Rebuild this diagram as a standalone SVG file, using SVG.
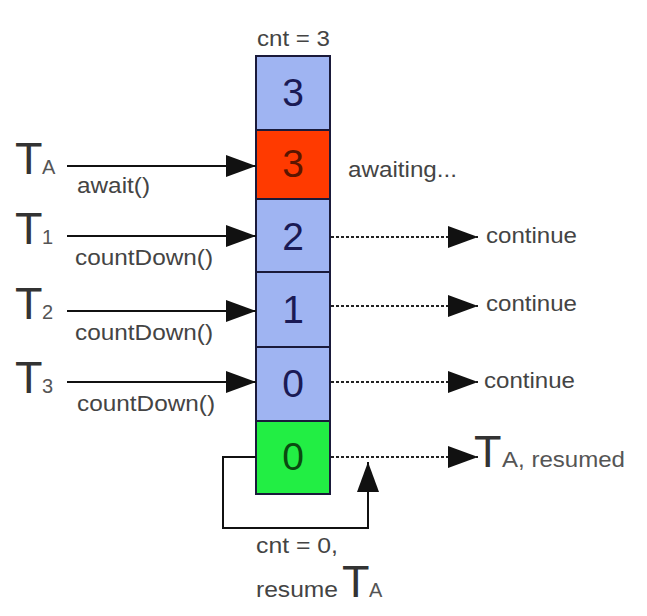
<svg xmlns="http://www.w3.org/2000/svg" width="647" height="616" viewBox="0 0 647 616">
<defs>
<marker id="ah" markerUnits="userSpaceOnUse" markerWidth="32" markerHeight="22" refX="30" refY="11" orient="auto">
<path d="M0,0 L30,11 L0,22 Z" fill="#111"/>
</marker>
<style>
.cell{stroke:#1a1a3a;stroke-width:2}
.blue{fill:#9fb4f2}
.red{fill:#ff3a00}
.green{fill:#22ee44}
.num{font-family:"Liberation Sans",Arial,sans-serif;font-size:39px;text-anchor:middle}
.lbl{font-family:"Liberation Sans",Arial,sans-serif;font-size:22px;fill:#444}
.big{font-family:"Liberation Sans",Arial,sans-serif;font-size:45px;fill:#333}
.sub{font-family:"Liberation Sans",Arial,sans-serif;font-size:20px;fill:#555}
.solid{stroke:#111;stroke-width:2;fill:none}
.dash{stroke:#222;stroke-width:1.8;stroke-dasharray:3,2;fill:none}
</style>
</defs>
<rect width="647" height="616" fill="#fff"/>
<text class="lbl" x="257" y="46" textLength="73" lengthAdjust="spacingAndGlyphs">cnt = 3</text>
<g id="cell0"><rect class="cell blue" x="256" y="56" width="74" height="74"/><text class="num" x="293" y="106" fill="#1a1a55">3</text></g>
<g id="cell1"><rect class="cell red" x="256" y="130" width="74" height="69"/><text class="num" x="293" y="177" fill="#5a1500">3</text></g>
<g id="cell2"><rect class="cell blue" x="256" y="199" width="74" height="73"/><text class="num" x="293" y="250" fill="#1a1a55">2</text></g>
<g id="cell3"><rect class="cell blue" x="256" y="272" width="74" height="75"/><text class="num" x="293" y="323" fill="#1a1a55">1</text></g>
<g id="cell4"><rect class="cell blue" x="256" y="347" width="74" height="74"/><text class="num" x="293" y="397" fill="#1a1a55">0</text></g>
<g id="cell5"><rect class="cell green" x="256" y="421" width="74" height="73"/><text class="num" x="293" y="470" fill="#0a4a10">0</text></g>
<g id="TA"><text class="big" x="15" y="174">T</text><text class="sub" x="42" y="174">A</text></g>
<g id="T1"><text class="big" x="15" y="244">T</text><text class="sub" x="42" y="244">1</text></g>
<g id="T2"><text class="big" x="15" y="319">T</text><text class="sub" x="42" y="319">2</text></g>
<g id="T3"><text class="big" x="15" y="393">T</text><text class="sub" x="42" y="393">3</text></g>
<g id="connectors">
<line class="solid" x1="67" y1="166" x2="256" y2="166" marker-end="url(#ah)"/>
<line class="solid" x1="67" y1="236" x2="256" y2="236" marker-end="url(#ah)"/>
<line class="solid" x1="67" y1="311" x2="256" y2="311" marker-end="url(#ah)"/>
<line class="solid" x1="67" y1="382" x2="256" y2="382" marker-end="url(#ah)"/>
<line class="dash" x1="331" y1="237" x2="478" y2="237" marker-end="url(#ah)"/>
<line class="dash" x1="331" y1="306" x2="478" y2="306" marker-end="url(#ah)"/>
<line class="dash" x1="331" y1="382" x2="478" y2="382" marker-end="url(#ah)"/>
<line class="dash" x1="331" y1="457" x2="478" y2="457" marker-end="url(#ah)"/>
<polyline class="solid" points="256,457 223,457 223,528 368,528 368,462" marker-end="url(#ah)"/>
</g>
<text class="lbl" x="77" y="193" textLength="73" lengthAdjust="spacingAndGlyphs">await()</text>
<text class="lbl" x="75" y="265" textLength="138" lengthAdjust="spacingAndGlyphs">countDown()</text>
<text class="lbl" x="75" y="340" textLength="138" lengthAdjust="spacingAndGlyphs">countDown()</text>
<text class="lbl" x="77" y="411" textLength="138" lengthAdjust="spacingAndGlyphs">countDown()</text>
<text class="lbl" x="348" y="177" textLength="109" lengthAdjust="spacingAndGlyphs">awaiting...</text>
<text class="lbl" x="486" y="243" textLength="91" lengthAdjust="spacingAndGlyphs">continue</text>
<text class="lbl" x="486" y="311" textLength="91" lengthAdjust="spacingAndGlyphs">continue</text>
<text class="lbl" x="484" y="388" textLength="91" lengthAdjust="spacingAndGlyphs">continue</text>
<g id="TAresumed"><text class="big" x="474" y="467">T</text><text class="sub" x="502" y="467" style="font-size:22px" textLength="123" lengthAdjust="spacingAndGlyphs">A, resumed</text></g>
<text class="lbl" x="256" y="553" textLength="82" lengthAdjust="spacingAndGlyphs">cnt = 0,</text>
<text class="lbl" x="256" y="597" textLength="82" lengthAdjust="spacingAndGlyphs">resume</text>
<text class="big" x="342" y="597">T</text><text class="sub" x="369" y="597">A</text>
</svg>
